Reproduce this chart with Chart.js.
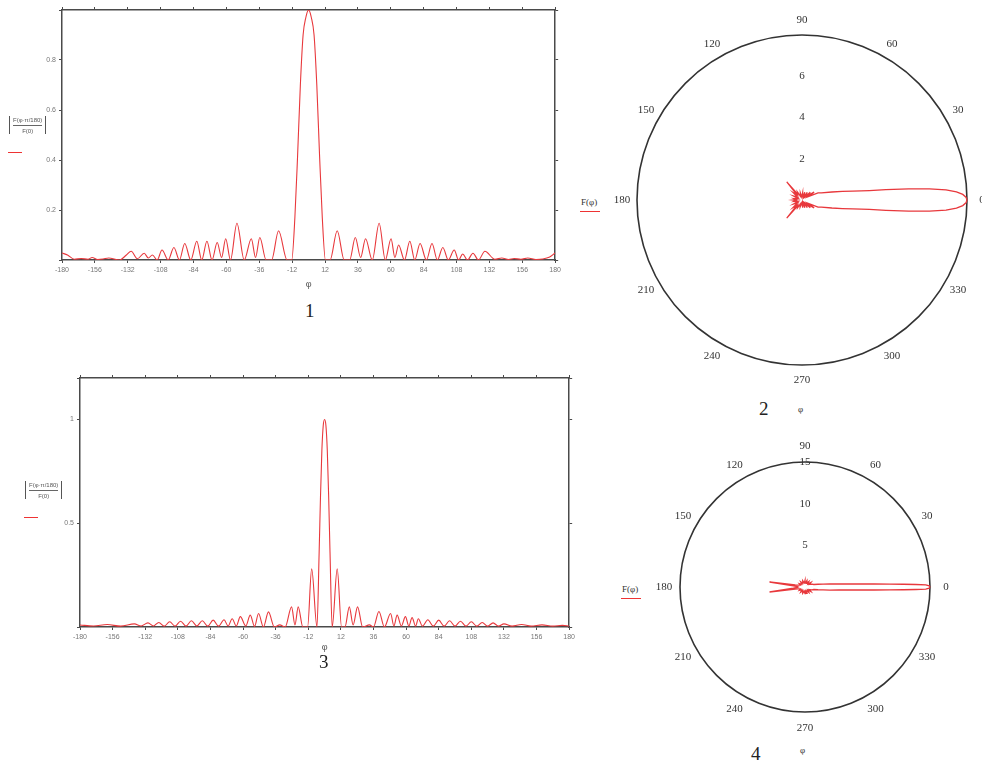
<!DOCTYPE html>
<html>
<head>
<meta charset="utf-8">
<script src="https://cdn.jsdelivr.net/npm/chart.js@4.4.1/dist/chart.umd.min.js"></script>
<style>
  body { margin: 0; background: #fff; width: 982px; height: 765px; position: relative; overflow: hidden; font-family: "Liberation Serif", serif; }
  .box { position: absolute; }
  .txt { position: absolute; color: #222; white-space: nowrap; }
  .num { font-size: 19px; }
  .frac { position: absolute; font-family: "Liberation Sans", sans-serif; font-size: 6px; color: #555; text-align: center; }
  .frac .abs { border-left: 1px solid #555; border-right: 1px solid #555; padding: 0 3px; }
  .frac .top { border-bottom: 1px solid #666; padding: 1px 0 2px; }
  .frac .bot { padding-top: 2px; }
  .red { position: absolute; height: 1px; background: #e33; }
  .fphi { font-size: 9px; color: #333; }
</style>
</head>
<body>

<div class="box" style="left:20px;top:0;width:544px;height:292px"><canvas id="c1"></canvas></div>
<div class="box" style="left:38px;top:370px;width:540px;height:285px"><canvas id="c3"></canvas></div>
<div class="box" style="left:612px;top:10px;width:380px;height:380px"><canvas id="c2"></canvas></div>
<div class="box" style="left:655px;top:437px;width:300px;height:300px"><canvas id="c4"></canvas></div>

<div class="frac" style="left:9px;top:116px"><div class="abs"><div class="top">F(φ·π/180)</div><div class="bot">F(0)</div></div></div>
<div class="red" style="left:8px;top:152px;width:14px"></div>
<div class="frac" style="left:25px;top:481px"><div class="abs"><div class="top">F(φ·π/180)</div><div class="bot">F(0)</div></div></div>
<div class="red" style="left:24px;top:517px;width:14px"></div>

<div class="txt fphi" style="left:581px;top:197px">F(φ)</div>
<div class="red" style="left:580px;top:211px;width:20px"></div>
<div class="txt fphi" style="left:622px;top:584px">F(φ)</div>
<div class="red" style="left:621px;top:598px;width:20px"></div>

<div class="txt num" style="left:305px;top:300px">1</div>
<div class="txt num" style="left:759px;top:398px">2</div>
<div class="txt fphi" style="left:798px;top:404px">φ</div>
<div class="txt num" style="left:319px;top:651px">3</div>
<div class="txt num" style="left:751px;top:743px">4</div>
<div class="txt fphi" style="left:800px;top:745px">φ</div>

<script>
// chart 1: normalised pattern, 0..180 deg either side
const phi1 = [-180, -176, -171, -166, -161, -158, -154, -150, -146, -138,
  -133, -129.5, -125, -120, -117, -114, -110.5, -107, -102.5, -98.3,
  -94.3, -90.4, -86, -81.6, -78, -74.2, -70.5, -66.7, -63.5, -60.5,
  -57, -52.3, -47, -41.8, -38.7, -35.6, -31, -27, -21.9, -15.7,
  -12.3, -10, -8, -6, -4, -2, 0, 2, 4, 6,
  8, 10, 12.3, 15.7, 20.9, 26, 30, 34.1, 38, 41.6,
  46.5, 51.5, 56, 60.2, 63, 65.7, 70, 73.9, 77.5, 81.4,
  86, 90.1, 94, 98, 102, 106.3, 109.5, 112.5, 116, 120,
  124, 128.7, 136, 141, 146, 150, 155, 160, 166, 171,
  176, 180];
const f1 = [0.028, 0.02, 0.003, 0.006, 0.003, 0.01, 0.002, 0.004, 0.008, 0,
  0.02, 0.035, 0.005, 0.027, 0.008, 0.02, 0, 0.04, 0, 0.05,
  0, 0.066, 0, 0.075, 0, 0.075, 0, 0.07, 0.01, 0.085,
  0, 0.147, 0, 0.085, 0.01, 0.09, 0, 0, 0.117, 0,
  0, 0.17, 0.42, 0.7, 0.9, 0.97, 1, 0.97, 0.9, 0.7,
  0.42, 0.17, 0, 0, 0.117, 0, 0, 0.09, 0.01, 0.085,
  0, 0.147, 0, 0.085, 0.01, 0.06, 0, 0.075, 0, 0.066,
  0, 0.066, 0, 0.05, 0, 0.04, 0, 0.024, 0, 0.027,
  0, 0.035, 0.003, 0.008, 0.002, 0.006, 0.003, 0.008, 0.002, 0.004,
  0.012, 0.028];

// chart 3: narrower pattern
const phi3 = [-180, -170, -160, -150, -140, -135, -130, -126, -122, -118,
  -114, -110, -106, -102, -98, -94, -90, -86, -82, -78,
  -74, -71, -68, -65, -62, -58, -54.7, -51.5, -48.6, -45,
  -41.3, -37, -33, -29, -24.3, -21.8, -19.4, -16, -12.5, -9.5,
  -5.6, -4, -3, -2, -1, 0, 1, 2, 3, 4,
  5.6, 9.3, 12.5, 15, 18.2, 21, 24.3, 28, 33, 36,
  40, 44, 48.6, 51, 53.4, 56.5, 59.5, 62, 64.4, 67,
  69, 72, 76, 80, 84, 88, 92, 96, 100, 104,
  108, 112, 116, 120, 124, 128, 132, 138, 145, 152,
  160, 168, 175, 180];
const f3 = [0.01, 0.005, 0.012, 0.004, 0.015, 0.005, 0.02, 0.005, 0.022, 0.004,
  0.025, 0.004, 0.028, 0.004, 0.03, 0.005, 0.03, 0.004, 0.033, 0.004,
  0.035, 0.005, 0.04, 0.005, 0.05, 0.005, 0.057, 0.003, 0.065, 0,
  0.073, 0, 0.01, 0, 0.097, 0.01, 0.097, 0, 0, 0.28,
  0, 0.36, 0.63, 0.85, 0.97, 1, 0.97, 0.85, 0.63, 0.36,
  0, 0.28, 0, 0, 0.097, 0.01, 0.097, 0, 0.01, 0,
  0.075, 0, 0.065, 0.005, 0.057, 0.005, 0.05, 0.005, 0.045, 0.004,
  0.04, 0.004, 0.035, 0.004, 0.033, 0.004, 0.03, 0.004, 0.028, 0.004,
  0.025, 0.004, 0.022, 0.004, 0.02, 0.004, 0.015, 0.004, 0.012, 0.004,
  0.01, 0.004, 0.008, 0.005];

// chart 2: polar F(phi), degrees / radius
const phi2 = [0, 1, 2, 3, 4, 5, 6, 7, 8, 10,
  12, 15, 20, 24, 28, 33, 38, 43, 48, 55,
  62, 70, 78, 85, 95, 103, 112, 120, 126, 130,
  134, 140, 147, 155, 163, 170, 176, 180, 184, 190,
  197, 205, 213, 220, 226, 230, 234, 240, 248, 255,
  265, 275, 282, 290, 298, 305, 312, 317, 322, 327,
  332, 336, 340, 345, 348, 350, 352, 353, 354, 355,
  356, 357, 358, 359, 360];
const r2 = [8.0, 7.95, 7.8, 7.5, 7.0, 6.2, 5.2, 4.1, 3.3, 2.5,
  2.0, 1.5, 1.0, 0.85, 0.35, 0.7, 0.3, 0.55, 0.2, 0.45,
  0.15, 0.4, 0.15, 0.35, 0.15, 0.35, 0.2, 0.45, 0.35, 1.15,
  0.35, 0.55, 0.25, 0.45, 0.2, 0.4, 0.3, 0.45, 0.3, 0.4,
  0.2, 0.45, 0.25, 0.55, 0.35, 1.15, 0.35, 0.45, 0.2, 0.35,
  0.15, 0.35, 0.15, 0.4, 0.15, 0.45, 0.2, 0.55, 0.3, 0.7,
  0.35, 0.85, 1.0, 1.5, 2.0, 2.5, 3.3, 4.1, 5.2, 6.2,
  7.0, 7.5, 7.8, 7.95, 8.0];

// chart 4: polar F(phi)
const phi4 = [0, 0.5, 1, 1.3, 1.6, 2, 2.5, 3, 4, 5,
  7, 9, 12, 16, 22, 30, 38, 46, 55, 64,
  73, 82, 90, 100, 110, 120, 130, 140, 150, 158,
  165, 168, 172, 174, 177, 180, 183, 186, 188, 192,
  195, 202, 210, 220, 230, 240, 250, 260, 270, 278,
  287, 296, 305, 314, 322, 330, 338, 344, 348, 351,
  353, 355, 356, 357, 357.5, 358, 358.4, 358.7, 359, 359.5,
  360];
const r4 = [15, 14.9, 14.5, 13.3, 11.8, 10.2, 8.3, 6.9, 5.2, 4.1,
  3.0, 2.2, 1.6, 1.1, 0.9, 0.6, 0.9, 0.5, 0.8, 0.5,
  0.8, 0.5, 0.8, 0.5, 0.8, 0.5, 0.8, 0.5, 0.8, 0.6,
  0.9, 1.2, 4.3, 1.4, 0.9, 0.8, 0.9, 1.4, 4.3, 1.2,
  0.9, 0.6, 0.8, 0.5, 0.8, 0.5, 0.8, 0.5, 0.8, 0.5,
  0.8, 0.5, 0.8, 0.5, 0.9, 0.6, 0.9, 1.1, 1.6, 2.2,
  3.0, 4.1, 5.2, 6.9, 8.3, 10.2, 11.8, 13.3, 14.5, 14.9,
  15];

const angleTicks = [0, 30, 60, 90, 120, 150, 180, 210, 240, 270, 300, 330];
const rTicks2 = [2, 4, 6];
const rTicks4 = [5, 10, 15];

const RED = '#e8383c';
const FRAME = '#4a4a4a';

function cartesianChart(id, phi, vals, yMax, yStep, padTop, xHeight) {
  const pts = phi.map((p, i) => ({ x: p, y: vals[i] }));
  return new Chart(document.getElementById(id), {
    type: 'scatter',
    data: {
      datasets: [{
        data: pts,
        showLine: true,
        borderColor: RED,
        borderWidth: 1.1,
        pointRadius: 0,
        cubicInterpolationMode: 'monotone'
      }]
    },
    options: {
      responsive: true,
      maintainAspectRatio: false,
      animation: false,
      layout: { padding: { top: padTop, right: 4 } },
      plugins: { legend: { display: false }, tooltip: { enabled: false } },
      scales: {
        x: {
          type: 'linear', min: -180, max: 180,
          ticks: { stepSize: 24, autoSkip: false, maxRotation: 0, color: '#777', font: { size: 7 } },
          grid: { drawOnChartArea: false, tickLength: 3, color: FRAME },
          border: { color: FRAME, width: 1.5 },
          title: { display: true, text: 'φ', color: '#555', font: { size: 9 }, padding: 2 },
          afterFit: s => { s.height = xHeight; }
        },
        x2: {
          type: 'linear', position: 'top', min: -180, max: 180,
          ticks: { display: false, stepSize: 24 },
          grid: { drawOnChartArea: false, tickLength: 3, color: FRAME },
          border: { color: FRAME, width: 1.5 },
          afterFit: s => { s.height = 0; }
        },
        y: {
          type: 'linear', min: 0, max: yMax,
          ticks: {
            stepSize: yStep, color: '#777', font: { size: 7 },
            callback: v => (v > 0 && v <= 1 && v < yMax) ? String(v) : ''
          },
          grid: { drawOnChartArea: false, tickLength: 3, color: FRAME },
          border: { color: FRAME, width: 1.5 },
          afterFit: s => { s.width = 42; }
        },
        y2: {
          type: 'linear', position: 'right', min: 0, max: yMax,
          ticks: { display: false, stepSize: yStep },
          grid: { drawOnChartArea: false, tickLength: 3, color: FRAME },
          border: { color: FRAME, width: 1.5 },
          afterFit: s => { s.width = 0; }
        }
      }
    }
  });
}

const polarFrame = {
  id: 'polarFrame',
  beforeDatasetsDraw(chart, args, opts) {
    const { ctx, scales: { x, y } } = chart;
    const cx = x.getPixelForValue(0), cy = y.getPixelForValue(0);
    const R = x.getPixelForValue(opts.rMax) - cx;
    ctx.save();
    ctx.strokeStyle = '#333';
    ctx.lineWidth = 1.6;
    ctx.beginPath();
    ctx.arc(cx, cy, R, 0, 2 * Math.PI);
    ctx.stroke();
    ctx.fillStyle = '#333';
    ctx.font = opts.size + 'px "Liberation Serif", serif';
    ctx.textAlign = 'center';
    ctx.textBaseline = 'middle';
    opts.angles.forEach(a => {
      const t = a * Math.PI / 180;
      ctx.fillText(String(a), cx + (R + opts.gap) * Math.cos(t), cy - (R + opts.gap) * Math.sin(t));
    });
    opts.rTicks.forEach(v => ctx.fillText(String(v), cx, y.getPixelForValue(v)));
    ctx.restore();
  }
};

function polarChart(id, phi, r, rMax, rTicks, gap, size) {
  const pts = phi.map((a, i) => ({
    x: r[i] * Math.cos(a * Math.PI / 180),
    y: r[i] * Math.sin(a * Math.PI / 180)
  }));
  return new Chart(document.getElementById(id), {
    type: 'scatter',
    data: {
      datasets: [{
        data: pts,
        showLine: true,
        borderColor: RED,
        borderWidth: 1.3,
        pointRadius: 0,
        tension: 0,
        clip: 6
      }]
    },
    options: {
      responsive: true,
      maintainAspectRatio: false,
      animation: false,
      layout: { padding: 25 },
      plugins: {
        legend: { display: false },
        tooltip: { enabled: false },
        polarFrame: { rMax: rMax, rTicks: rTicks, angles: angleTicks, gap: gap, size: size }
      },
      scales: {
        x: { type: 'linear', min: -rMax, max: rMax, display: false },
        y: { type: 'linear', min: -rMax, max: rMax, display: false }
      }
    },
    plugins: [polarFrame]
  });
}

cartesianChart('c1', phi1, f1, 1, 0.2, 10, 32);
cartesianChart('c3', phi3, f3, 1.2, 0.5, 8, 28);
polarChart('c2', phi2, r2, 8, rTicks2, 15, 11);
polarChart('c4', phi4, r4, 15, rTicks4, 16, 11);
</script>
</body>
</html>
